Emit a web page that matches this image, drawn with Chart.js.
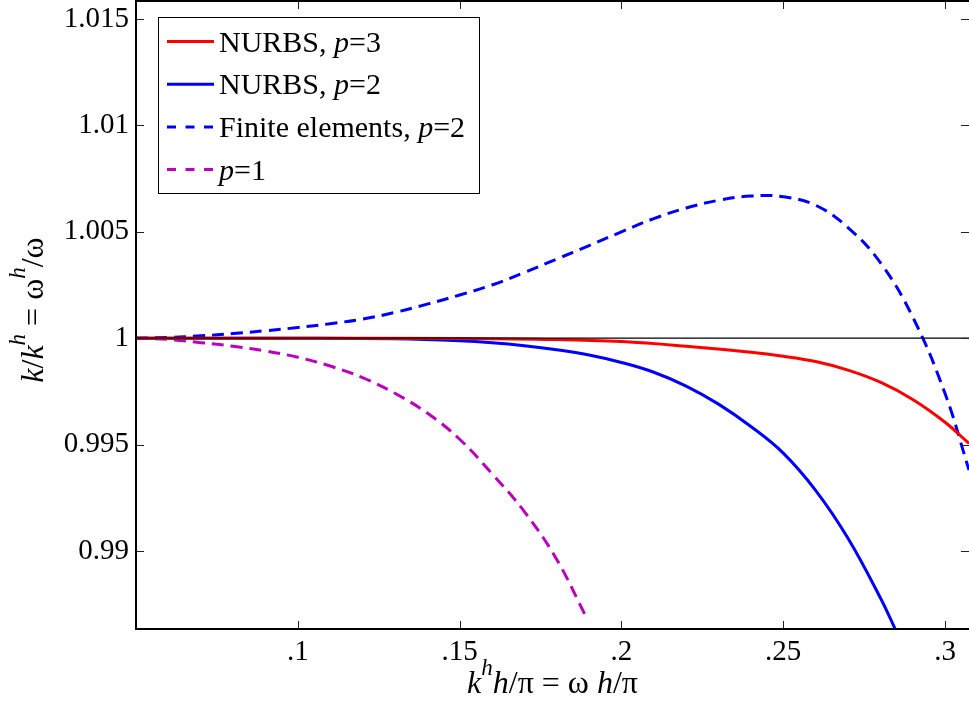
<!DOCTYPE html>
<html>
<head>
<meta charset="utf-8">
<script src="https://cdn.jsdelivr.net/npm/chart.js@4.4.1/dist/chart.umd.min.js"></script>
<style>
  html, body { margin: 0; padding: 0; background: #fff; overflow: hidden; }
  canvas { display: block; }
</style>
</head>
<body>
<canvas id="c" width="969" height="708"></canvas>
<script>
// Axis ranges and ticks
const xRange = [0.05, 0.3074];
const yRange = [0.98633, 1.01585];
const xTickValues = [0.1, 0.15, 0.2, 0.25, 0.3];
const xTickLabels = ['.1', '.15', '.2', '.25', '.3'];
const yTickValues = [0.99, 0.995, 1, 1.005, 1.01, 1.015];
const yTickLabels = ['0.99', '0.995', '1', '1.005', '1.01', '1.015'];

// Exact ratio (reference line)
const exactX = [0.05, 0.3074];
const exactY = [1, 1];

// NURBS, p=3
const nurbs3X = [0.05, 0.10, 0.15, 0.18, 0.20, 0.22, 0.24, 0.25, 0.26, 0.27, 0.28, 0.29, 0.30, 0.3074];
const nurbs3Y = [1.0, 1.0, 0.99999, 0.99994, 0.99984, 0.99962, 0.99934, 0.99915, 0.99890, 0.99850, 0.99793, 0.99712, 0.99605, 0.99505];

// NURBS, p=2
const nurbs2X = [0.05, 0.10, 0.13, 0.15, 0.16, 0.17, 0.18, 0.19, 0.20, 0.21, 0.22, 0.23, 0.24, 0.25, 0.26, 0.27, 0.28, 0.2847];
const nurbs2Y = [1.0, 1.0, 0.99997, 0.99988, 0.99979, 0.99965, 0.99946, 0.99921, 0.99886, 0.99840, 0.99775, 0.99690, 0.99585, 0.99460, 0.99285, 0.99060, 0.98780, 0.98629];

// Finite elements, p=2
const fe2X = [0.05, 0.06, 0.07, 0.08, 0.09, 0.10, 0.11, 0.12, 0.13, 0.14, 0.15, 0.16, 0.17, 0.18, 0.19, 0.20, 0.21, 0.22, 0.23, 0.24, 0.25, 0.26, 0.27, 0.28, 0.29, 0.30, 0.3074];
const fe2Y = [1.0, 1.00004, 1.00011, 1.00022, 1.00035, 1.00050, 1.00068, 1.00090, 1.00121, 1.00160, 1.00203, 1.00250, 1.00309, 1.00372, 1.00435, 1.00500, 1.00562, 1.00612, 1.00648, 1.00668, 1.00665, 1.00625, 1.00520, 1.00355, 1.00100, 0.99740, 0.99380];

// p=1
const fe1X = [0.05, 0.06, 0.07, 0.08, 0.09, 0.10, 0.11, 0.12, 0.13, 0.14, 0.15, 0.16, 0.17, 0.18, 0.1894];
const fe1Y = [1.0, 0.99994, 0.99979, 0.99962, 0.99940, 0.99910, 0.99869, 0.99815, 0.99741, 0.99648, 0.99525, 0.99363, 0.99185, 0.98960, 0.98680];

// Legend texts: [text, style] with 'n' upright, 'i' italic
const seriesLabels = [
  [['NURBS, ', 'n'], ['p', 'i'], ['=3', 'n']],
  [['NURBS, ', 'n'], ['p', 'i'], ['=2', 'n']],
  [['Finite elements, ', 'n'], ['p', 'i'], ['=2', 'n']],
  [['p', 'i'], ['=1', 'n']]
];
// Axis titles: 's' is an italic superscript
const xTitleParts = [['k', 'i'], ['h', 's'], ['h', 'i'], ['/\u03C0 = \u03C9 ', 'n'], ['h', 'i'], ['/\u03C0', 'n']];
const yTitleParts = [['k', 'i'], ['/', 'n'], ['k', 'i'], ['h', 's'], [' = \u03C9', 'n'], ['h', 's'], ['/\u03C9', 'n']];

const FONT = '"Liberation Serif", "Times New Roman", serif';
const FS = 29;      // tick labels
const TITLE_FS = 32; // axis titles
const LEGEND_FS = 30;

function zip(xs, ys) { return xs.map((x, i) => ({ x: x, y: ys[i] })); }

function partFont(style, size) {
  if (style === 'i') return 'italic ' + size + 'px ' + FONT;
  if (style === 's') return 'italic ' + Math.round(size * 0.72) + 'px ' + FONT;
  return size + 'px ' + FONT;
}
function richWidth(ctx, parts, size) {
  let w = 0;
  for (const [t, s] of parts) { ctx.font = partFont(s, size); w += ctx.measureText(t).width; }
  return w;
}
function drawRich(ctx, parts, x, y, size, align) {
  let cx = align === 'center' ? x - richWidth(ctx, parts, size) / 2 : x;
  ctx.textBaseline = 'alphabetic';
  ctx.textAlign = 'left';
  for (const [t, s] of parts) {
    ctx.font = partFont(s, size);
    const dy = s === 's' ? -0.56 * size : 0;
    ctx.fillText(t, cx, y + dy);
    cx += ctx.measureText(t).width;
  }
}

const boxPlugin = {
  id: 'boxPlugin',
  afterDatasetsDraw(chart) {
    const ctx = chart.ctx;
    const a = chart.chartArea;
    const xs = chart.scales.x, ys = chart.scales.y;
    ctx.save();
    // inward tick marks on all four sides
    ctx.strokeStyle = '#222';
    ctx.lineWidth = 1;
    const tl = 8;
    for (const v of xTickValues) {
      const px = Math.round(xs.getPixelForValue(v)) + 0.5;
      ctx.beginPath();
      ctx.moveTo(px, a.bottom); ctx.lineTo(px, a.bottom - tl);
      ctx.moveTo(px, a.top); ctx.lineTo(px, a.top + tl);
      ctx.stroke();
    }
    for (const v of yTickValues) {
      const py = Math.round(ys.getPixelForValue(v)) + 0.5;
      ctx.beginPath();
      ctx.moveTo(a.left, py); ctx.lineTo(a.left + tl, py);
      ctx.moveTo(a.right, py); ctx.lineTo(a.right - tl, py);
      ctx.stroke();
    }
    // axes box (left, bottom, top)
    ctx.strokeStyle = '#000';
    ctx.lineWidth = 2;
    ctx.beginPath();
    ctx.moveTo(a.left, a.top); ctx.lineTo(a.right + 2, a.top);
    ctx.moveTo(a.left, a.top - 1); ctx.lineTo(a.left, a.bottom + 1);
    ctx.moveTo(a.left - 1, a.bottom); ctx.lineTo(a.right + 2, a.bottom);
    ctx.stroke();

    // legend
    const lx = 158, ly = 17, lw = 321, lh = 176;
    ctx.fillStyle = '#fff';
    ctx.fillRect(lx, ly, lw, lh);
    ctx.strokeStyle = '#000';
    ctx.lineWidth = 1;
    ctx.strokeRect(lx + 0.5, ly + 0.5, lw, lh);
    const entries = chart.data.datasets.slice(1);
    entries.forEach((ds, i) => {
      const cy = 41.5 + i * 42.7;
      ctx.strokeStyle = ds.borderColor;
      ctx.lineWidth = 3;
      ctx.setLineDash(ds.borderDash && ds.borderDash.length ? [9, 9.5] : []);
      ctx.beginPath();
      ctx.moveTo(167, cy); ctx.lineTo(214, cy);
      ctx.stroke();
      ctx.setLineDash([]);
      ctx.fillStyle = '#000';
      drawRich(ctx, seriesLabels[i], 219, cy + 10, LEGEND_FS, 'left');
    });
    ctx.restore();
  },
  afterDraw(chart) {
    const ctx = chart.ctx;
    const a = chart.chartArea;
    ctx.save();
    ctx.fillStyle = '#000';
    drawRich(ctx, xTitleParts, (a.left + a.right) / 2, 693, TITLE_FS, 'center');
    ctx.translate(43, 310);
    ctx.rotate(-Math.PI / 2);
    drawRich(ctx, yTitleParts, 0, 0, TITLE_FS, 'center');
    ctx.restore();
  }
};

const lineStyle = { showLine: true, pointRadius: 0, pointHoverRadius: 0, fill: false, tension: 0.4 };

new Chart(document.getElementById('c'), {
  type: 'scatter',
  data: {
    datasets: [
      Object.assign({}, lineStyle, { label: 'exact', data: zip(exactX, exactY), borderColor: '#000', borderWidth: 1.2, tension: 0 }),
      Object.assign({}, lineStyle, { label: 'NURBS, p=3', data: zip(nurbs3X, nurbs3Y), borderColor: '#ff0000', borderWidth: 3 }),
      Object.assign({}, lineStyle, { label: 'NURBS, p=2', data: zip(nurbs2X, nurbs2Y), borderColor: '#0000ff', borderWidth: 3 }),
      Object.assign({}, lineStyle, { label: 'Finite elements, p=2', data: zip(fe2X, fe2Y), borderColor: '#0000ff', borderWidth: 3, borderDash: [12, 7] }),
      Object.assign({}, lineStyle, { label: 'p=1', data: zip(fe1X, fe1Y), borderColor: '#c000c0', borderWidth: 3, borderDash: [12, 7] })
    ]
  },
  options: {
    responsive: false,
    animation: false,
    devicePixelRatio: 1,
    layout: { padding: { top: 1, right: 0, left: 0, bottom: 0 } },
    plugins: { legend: { display: false }, tooltip: { enabled: false } },
    scales: {
      x: {
        type: 'linear',
        min: xRange[0], max: xRange[1],
        grid: { display: false, drawTicks: false },
        border: { display: false },
        afterBuildTicks: (s) => { s.ticks = xTickValues.map(v => ({ value: v })); },
        afterFit: (s) => { s.height = 79; s.paddingLeft = 0; s.paddingRight = 0; s.paddingTop = 0; s.paddingBottom = 0; },
        ticks: {
          padding: 6,
          maxRotation: 0,
          autoSkip: false,
          color: '#000',
          font: { family: FONT, size: FS },
          callback: (v) => { const i = xTickValues.findIndex(t => Math.abs(t - v) < 1e-9); return i >= 0 ? xTickLabels[i] : ''; }
        }
      },
      y: {
        type: 'linear',
        min: yRange[0], max: yRange[1],
        grid: { display: false, drawTicks: false },
        border: { display: false },
        afterBuildTicks: (s) => { s.ticks = yTickValues.map(v => ({ value: v })); },
        afterFit: (s) => { s.width = 136; s.paddingLeft = 0; s.paddingRight = 0; s.paddingTop = 0; s.paddingBottom = 0; },
        ticks: {
          padding: 7,
          autoSkip: false,
          color: '#000',
          font: { family: FONT, size: FS },
          callback: (v) => { const i = yTickValues.findIndex(t => Math.abs(t - v) < 1e-9); return i >= 0 ? yTickLabels[i] : ''; }
        }
      }
    }
  },
  plugins: [boxPlugin]
});
</script>
</body>
</html>
